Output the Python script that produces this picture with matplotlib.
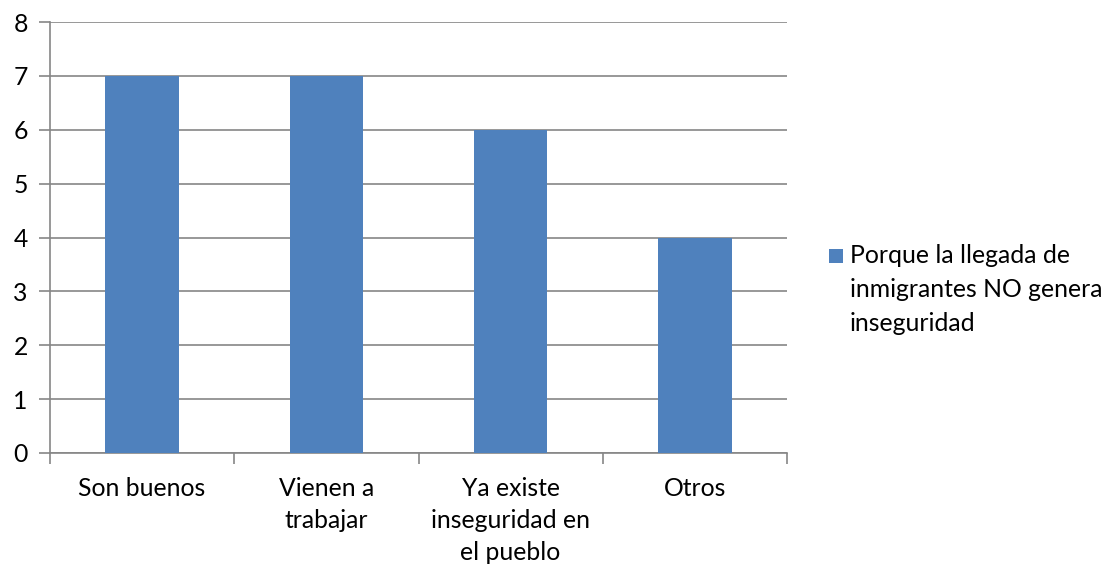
import matplotlib.pyplot as plt
import numpy as np
from matplotlib.patches import Rectangle
from matplotlib.legend_handler import HandlerPatch

categories = ["Son buenos", "Vienen a\ntrabajar", "Ya existe\ninseguridad en\nel pueblo", "Otros"]
values = [7, 7, 6, 4]
series_label = "Porque la llegada de\ninmigrantes NO genera\ninseguridad"

plt.rcParams['font.family'] = ['Lato', 'DejaVu Sans']
fs = 17.8

fig = plt.figure(figsize=(11.07, 5.64), dpi=100)
ax = fig.add_axes([50 / 1107, 1 - 453 / 564, (787 - 50) / 1107, (453 - 22) / 564])

x = np.arange(len(categories))
bars = ax.bar(x, values, width=0.4, color='#4f81bd', zorder=3, label=series_label)

ax.set_xlim(-0.5, len(categories) - 0.5)
ax.set_ylim(0, 8)
ax.set_yticks(range(0, 9))
ax.yaxis.grid(True, color='#868686', linewidth=1.2, zorder=0)

# category labels between boundary ticks
ax.set_xticks(np.arange(-0.5, len(categories)), minor=False)
ax.set_xticklabels([])
ax.set_xticks(x, minor=True)
ax.set_xticklabels(categories, minor=True, fontsize=fs, linespacing=1.48, va='top')
ax.tick_params(axis='x', which='minor', length=0, pad=17)
ax.tick_params(axis='x', which='major', length=8, color='#868686', width=1.2)
ax.tick_params(axis='y', length=8, color='#868686', width=1.2, labelsize=fs, pad=8)

for side in ['top', 'right']:
    ax.spines[side].set_visible(False)
for side in ['left', 'bottom']:
    ax.spines[side].set_color('#868686')
    ax.spines[side].set_linewidth(1.2)


# legend marker sits next to the first line, like Excel
def top_square(legend, orig_handle, xdescent, ydescent, width, height, fontsize):
    s = width
    return Rectangle((-xdescent, -ydescent + height - s + 0.285 * fontsize), s, s)


handle = bars.patches[0]
leg = fig.legend(handles=[handle], labels=[series_label], loc='upper left',
                 bbox_to_anchor=(829 / 1107, 1 - 244 / 564), frameon=False,
                 fontsize=fs, handlelength=0.55, handleheight=4.1, handletextpad=0.3,
                 borderaxespad=0, borderpad=0,
                 handler_map={handle: HandlerPatch(patch_func=top_square)})
for t in leg.get_texts():
    t.set_linespacing(1.58)

fig.savefig('out.png', dpi=100)
